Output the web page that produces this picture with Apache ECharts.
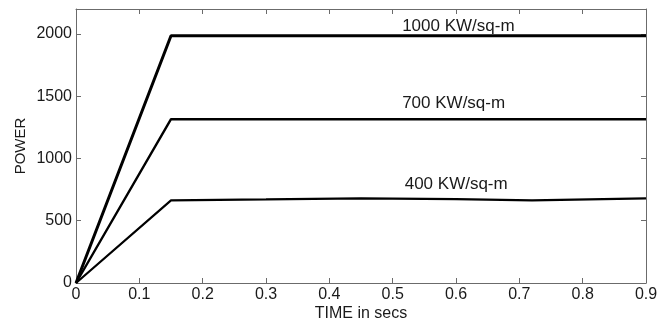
<!DOCTYPE html>
<html>
<head>
<meta charset="utf-8">
<script src="https://cdn.jsdelivr.net/npm/echarts@6/dist/echarts.min.js"></script>
<style>
  html, body { margin: 0; padding: 0; background: #fff; }
  #chart { width: 657px; height: 324px; }
</style>
</head>
<body>
<div id="chart"></div>
<script>
// Output power of the PV array for three irradiance levels
const timeHigh = [0, 0.15, 0.3, 0.45, 0.6, 0.75, 0.9];
const power1000 = [0, 1985, 1985, 1985, 1985, 1985, 1985];
const power700 = [0, 1315, 1315, 1315, 1315, 1315, 1315];
const timeLow = [0, 0.15, 0.3, 0.45, 0.6, 0.72, 0.9];
const power400 = [0, 663, 671, 680, 673, 663, 680];
const seriesNames = ['1000 KW/sq-m', '700 KW/sq-m', '400 KW/sq-m'];
const xTicks = { min: 0, max: 0.9, step: 0.1 };
const yTicks = { min: 0, max: 2200, step: 500, lastLabel: 2000 };

const FONT = '"Liberation Sans", Arial, sans-serif';
const pairs = (xs, ys) => xs.map((x, i) => [x, ys[i]]);

const frameLine = { show: true, onZero: false, lineStyle: { color: '#6b6b6b', width: 1 } };
const frameTick = { show: true, inside: true, length: 5, lineStyle: { color: '#6b6b6b', width: 1 } };

function curve(name, data, width, labelAt) {
  return {
    name, type: 'line', data, showSymbol: false, symbol: 'none',
    lineStyle: { color: '#000', width }, silent: true, animation: false,
    markPoint: {
      symbol: 'circle', symbolSize: 0, silent: true, animation: false,
      label: {
        show: true, formatter: name, position: 'right', distance: 0,
        color: '#1a1a1a', fontSize: 17, fontFamily: FONT
      },
      data: [{ coord: labelAt }]
    }
  };
}

const chart = echarts.init(document.getElementById('chart'), null, { renderer: 'canvas' });
chart.setOption({
  animation: false,
  grid: { left: 76, right: 11, top: 9, bottom: 41, containLabel: false, outerBoundsMode: 'none' },
  xAxis: [
    {
      type: 'value', position: 'bottom', min: xTicks.min, max: xTicks.max, interval: xTicks.step,
      name: 'TIME in secs', nameLocation: 'middle', nameGap: 23, nameMoveOverlap: false,
      nameTextStyle: { color: '#1a1a1a', fontSize: 16, fontFamily: FONT },
      axisLine: frameLine, axisTick: frameTick, splitLine: { show: false },
      axisLabel: { color: '#1a1a1a', fontSize: 16, fontFamily: FONT, margin: 4 }
    },
    {
      type: 'value', position: 'top', min: xTicks.min, max: xTicks.max, interval: xTicks.step,
      axisLine: frameLine, axisTick: frameTick, splitLine: { show: false },
      axisLabel: { show: false }
    }
  ],
  yAxis: [
    {
      type: 'value', position: 'left', min: yTicks.min, max: yTicks.max, interval: yTicks.step,
      name: 'POWER', nameLocation: 'middle', nameGap: 48, nameRotate: 90, nameMoveOverlap: false,
      nameTextStyle: { color: '#1a1a1a', fontSize: 15, fontFamily: FONT },
      axisLine: frameLine, axisTick: frameTick, splitLine: { show: false },
      axisLabel: {
        color: '#1a1a1a', fontSize: 16, fontFamily: FONT, margin: 4,
        formatter: v => (v > yTicks.lastLabel ? '' : String(v))
      }
    },
    {
      type: 'value', position: 'right', min: yTicks.min, max: yTicks.max, interval: yTicks.step,
      axisLine: frameLine, axisTick: frameTick, splitLine: { show: false },
      axisLabel: { show: false }
    }
  ],
  series: [
    curve(seriesNames[0], pairs(timeHigh, power1000), 3, [0.515, 2060]),
    curve(seriesNames[1], pairs(timeHigh, power700), 2.4, [0.515, 1441]),
    curve(seriesNames[2], pairs(timeLow, power400), 2.2, [0.519, 793])
  ]
});
</script>
</body>
</html>
